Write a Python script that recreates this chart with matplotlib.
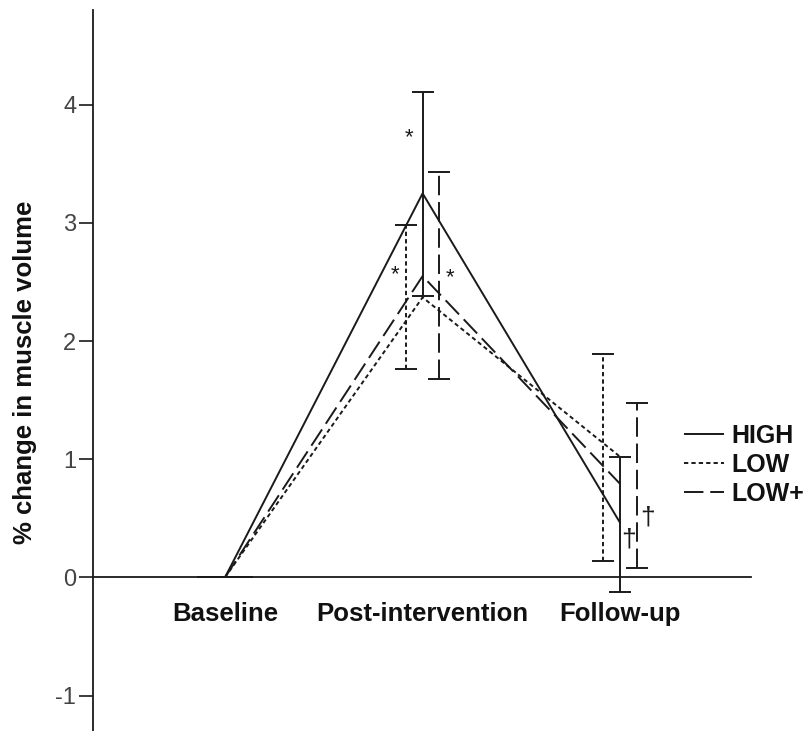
import numpy as np
import matplotlib
matplotlib.use("Agg")
import matplotlib.pyplot as plt
from matplotlib.lines import Line2D

plt.rcParams['font.family'] = ['Liberation Sans', 'DejaVu Sans']

# data
categories = ['Baseline', 'Post-intervention', 'Follow-up']
groups = ['HIGH', 'LOW', 'LOW+']

high_mean = [0.0, 3.25, 0.46]
high_lo = [0.0, 2.38, -0.12]
high_hi = [0.0, 4.11, 1.02]

low_mean = [0.0, 2.37, 1.02]
low_lo = [0.0, 1.76, 0.14]
low_hi = [0.0, 2.98, 1.89]

lowp_mean = [0.0, 2.55, 0.79]
lowp_lo = [0.0, 1.68, 0.08]
lowp_hi = [0.0, 3.43, 1.48]

# significance marks: (category index, offset, y, symbol, size)
marks = [(1, -0.07, 3.72, '*', 16), (1, -0.14, 2.56, '*', 16), (1, 0.14, 2.54, '*', 16),
         (2, 0.04, 0.32, '\u2020', 19), (2, 0.14, 0.51, '\u2020', 19)]

dash_styles = {'HIGH': (0, ()), 'LOW': (0, (2.2, 1.6)), 'LOW+': (0, (10, 3.5))}
offsets = {'HIGH': 0.0, 'LOW': -0.085, 'LOW+': 0.085}

fig = plt.figure(figsize=(8.05, 7.31), dpi=100)
ax = fig.add_axes([0.1155, 0.0, 0.817, 0.986])

for s in ['top', 'right']:
    ax.spines[s].set_visible(False)
ax.spines['bottom'].set_position(('data', 0))

x = np.arange(len(categories))
series = [('HIGH', high_mean, high_lo, high_hi),
          ('LOW', low_mean, low_lo, low_hi),
          ('LOW+', lowp_mean, lowp_lo, lowp_hi)]

col = '#1a1a1a'
for name, m, lo, hi in series:
    m = np.array(m); lo = np.array(lo); hi = np.array(hi)
    ax.plot(x, m, color=col, lw=1.4, linestyle=dash_styles[name])
    eb = ax.errorbar(x + offsets[name], (lo + hi) / 2, yerr=[(hi - lo) / 2, (hi - lo) / 2],
                     fmt='none', ecolor=col, elinewidth=1.4, capsize=8, capthick=1.4)
    eb[-1][0].set_linestyle(dash_styles[name])

for ci, off, yy, s, fs in marks:
    ax.text(ci + off, yy, s, ha='center', va='center', fontsize=fs, color=col)

ax.set_xlim(-0.668, 2.66)
ax.set_ylim(-1.3, 4.8)
ax.set_yticks([-1, 0, 1, 2, 3, 4])
ax.set_yticklabels(['-1', '0', '1', '2', '3', '4'], fontsize=17, color='#444444')
ax.tick_params(axis='y', length=10, width=1.2, color=col, pad=2)
ax.set_xticks(x)
ax.set_xticklabels(categories, fontsize=18.5, fontweight='bold', color='#111111')
ax.tick_params(axis='x', length=0, pad=18)

ax.spines['left'].set_linewidth(1.3)
ax.spines['bottom'].set_linewidth(1.3)
ax.spines['left'].set_color(col)
ax.spines['bottom'].set_color(col)

fig.text(0.031, 0.491, '% change in muscle volume', rotation=90, ha='center', va='center',
         fontsize=18.5, fontweight='bold', color='#111111')

handles = [Line2D([], [], color=col, lw=1.4, linestyle=dash_styles[g]) for g in groups]
leg = fig.legend(handles, groups, loc='upper left', bbox_to_anchor=(0.85, 0.42),
                 frameon=False, fontsize=18, handlelength=1.6, handletextpad=0.3,
                 labelspacing=0.2, borderpad=0, borderaxespad=0)
for t in leg.get_texts():
    t.set_fontweight('bold')
    t.set_color('#111111')

fig.savefig('out.png', dpi=100, facecolor='white')
